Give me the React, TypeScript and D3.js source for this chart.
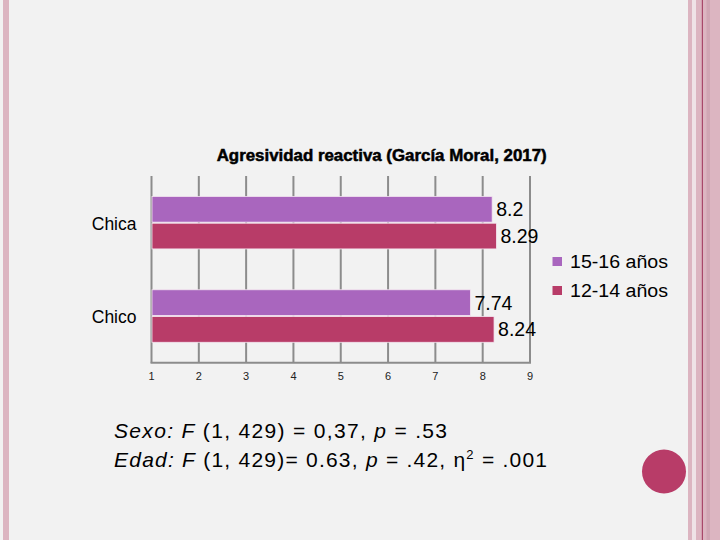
import React from "react";
import * as d3 from "d3";

const categories = ["Chica", "Chico"];
const seriesNames = ["15-16 años", "12-14 años"];
const seriesOlder = [8.2, 7.74];
const seriesYounger = [8.29, 8.24];
const valueLabels = [["8.2", "8.29"], ["7.74", "8.24"]];
const xTicks = [1, 2, 3, 4, 5, 6, 7, 8, 9];
const colors = ["#a966be", "#b83c68"];
const title = "Agresividad reactiva (García Moral, 2017)";

export default function App() {
  const W = 720, H = 540;
  const x = d3.scaleLinear().domain([1, 9]).range([151.5, 530]);
  const y = d3.scaleBand().domain(categories).range([176, 362.7]).paddingInner(0).paddingOuter(0);
  const sub = d3.scaleBand().domain(["0", "1"]).range([0, 52.5]).paddingInner(0.04);
  const font = "'Liberation Sans', Arial, sans-serif";
  const series = [seriesOlder, seriesYounger];

  return (
    <svg width={W} height={H} style={{ position: "absolute", left: 0, top: 0 }} fontFamily={font}>
      <rect x={0} y={0} width={W} height={H} fill="#f2f2f2" />
      {/* decorative stripes */}
      <rect x={3} y={0} width={6} height={H} fill="#dcb5c1" />
      <rect x={688} y={0} width={4} height={H} fill="#dcb5c1" />
      <rect x={692} y={0} width={4} height={H} fill="#efe3e7" />
      <rect x={696} y={0} width={24} height={H} fill="#dcb5c1" />
      <rect x={706.5} y={0} width={3.5} height={H} fill="#d0a6b4" />
      <rect x={701.8} y={0} width={1.2} height={H} fill="#a8486a" />
      <circle cx={664} cy={471.5} r={22} fill="#b83c68" />

      <text x={381.7} y={160.5} fontSize={16} fontWeight="bold" textAnchor="middle" textLength={330} lengthAdjust="spacingAndGlyphs" fill="#000" stroke="#000" strokeWidth={0.5}>{title}</text>

      {/* gridlines */}
      {xTicks.map((t) => (
        <line key={t} x1={x(t)} x2={x(t)} y1={176} y2={362.7} stroke="#8c8c8c" strokeWidth={2} />
      ))}
      <line x1={x(1) - 1} x2={x(9) + 1} y1={362.7} y2={362.7} stroke="#8c8c8c" strokeWidth={2} />
      {xTicks.map((t) => (
        <text key={"t" + t} x={x(t)} y={379.5} fontSize={11} textAnchor="middle" fill="#222">{t}</text>
      ))}

      {categories.map((c, i) => {
        const band = y(c)!;
        const top = band + (y.bandwidth() - 52.5) / 2;
        return (
          <g key={c}>
            <text x={136.5} y={band + y.bandwidth() / 2 + 7} fontSize={17.5} textAnchor="end" fill="#000">{c}</text>
            {series.map((s, j) => {
              const by = top + sub(String(j))!;
              const bh = sub.bandwidth();
              return (
                <g key={j}>
                  <rect x={x(1) + 0.5} y={by} width={x(s[i]) - x(1) - 0.5} height={bh} fill={colors[j]} stroke="#f4e6f0" strokeWidth={0.8} />
                  <text x={x(s[i]) + 4} y={by + bh / 2 + 7} fontSize={19.5} fill="#000">{valueLabels[i][j]}</text>
                </g>
              );
            })}
          </g>
        );
      })}

      {/* legend */}
      {seriesNames.map((n, j) => (
        <g key={n}>
          <rect x={552.5} y={257 + j * 29} width={9.5} height={9} fill={colors[j]} />
          <text x={570} y={268 + j * 29} fontSize={18} textLength={98} lengthAdjust="spacingAndGlyphs" fill="#000">{n}</text>
        </g>
      ))}

      {/* annotation */}
      <text x={114} y={438.3} fontSize={21} textLength={333} lengthAdjust="spacing" fill="#000">
        <tspan fontStyle="italic">Sexo: F</tspan>
        <tspan> (1, 429) = 0,37, </tspan>
        <tspan fontStyle="italic">p</tspan>
        <tspan> = .53</tspan>
      </text>
      <text x={114} y={466.7} fontSize={21} textLength={433} lengthAdjust="spacing" fill="#000">
        <tspan fontStyle="italic">Edad: F</tspan>
        <tspan> (1, 429)= 0.63, </tspan>
        <tspan fontStyle="italic">p</tspan>
        <tspan> = .42, η</tspan>
        <tspan fontSize={13} dy={-8}>2</tspan>
        <tspan dy={8}> = .001</tspan>
      </text>
    </svg>
  );
}
